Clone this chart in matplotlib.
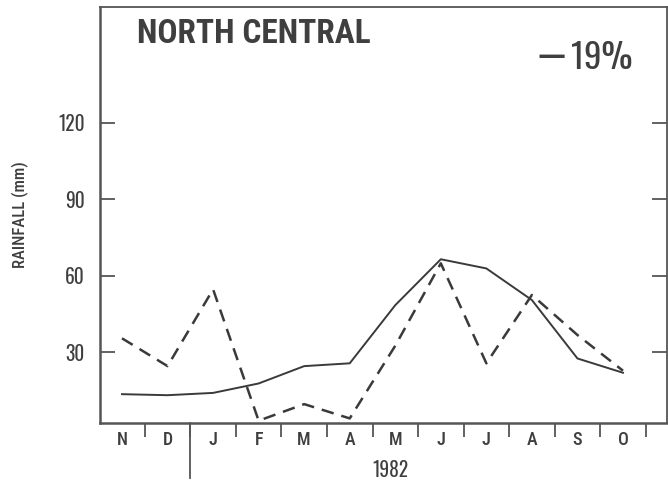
import matplotlib
matplotlib.use('Agg')
import matplotlib.pyplot as plt

# month axis, Nov 1981 - Oct 1982
months = ['N', 'D', 'J', 'F', 'M', 'A', 'M', 'J', 'J', 'A', 'S', 'O']
year_label = '1982'

# rainfall (mm)
rain_normal = [13.5, 13.1, 14.0, 17.7, 24.5, 25.6, 48.4, 66.4, 62.8, 50.4, 27.5, 21.9]
rain_1982 = [35.4, 24.5, 54.6, 3.1, 9.6, 4.0, 32.5, 64.8, 25.6, 52.4, 36.7, 22.7]

y_ticks = [30, 60, 90, 120]
region = 'NORTH CENTRAL'
change_text = '19%'

plt.rcParams['font.family'] = ['Roboto Condensed', 'DejaVu Sans']
num_font = ['Oswald', 'Roboto Condensed', 'DejaVu Sans']
ink = '#3a3a3a'
text_col = '#3f3f3f'

fig = plt.figure(figsize=(6.68, 4.84), dpi=100)
ax = fig.add_axes([100 / 668, 61 / 484, 567 / 668, 416 / 484])

x = list(range(len(months)))
ax.plot(x, rain_normal, color=ink, lw=1.4)
ax.plot(x, rain_1982, color=ink, lw=1.8, dashes=(5, 3.2))

ax.set_xlim(-0.483, 11.966)
ax.set_ylim(2.2, 165.3)

for s in ax.spines.values():
    s.set_color('#555555')
    s.set_linewidth(1.3)
ax.spines['left'].set_linewidth(1.8)
ax.spines['bottom'].set_linewidth(1.8)

# month labels, no major ticks; minor ticks between months
ax.set_xticks(x)
ax.set_xticklabels(months, fontsize=13, color=text_col, fontweight='medium')
ax.tick_params(axis='x', which='major', length=0, pad=6)
ax.set_xticks([i + 0.5 for i in x], minor=True)
ax.tick_params(axis='x', which='minor', direction='out', length=10,
               width=1.3, color='#555555')

# year boundary marker between D and J
ax.plot([1.5, 1.5], [0, -0.132], transform=ax.get_xaxis_transform(),
        color='#555555', lw=1.3, clip_on=False)

ax.set_yticks(y_ticks)
ax.set_yticklabels([str(v) for v in y_ticks], fontsize=14, color=text_col,
                   family=num_font)
ax.tick_params(axis='y', direction='in', length=11, width=1.3,
               color='#555555', right=True, pad=11)

ax.set_ylabel('RAINFALL (mm)', fontsize=12, color=text_col,
              fontweight='medium', labelpad=0)
ax.yaxis.set_label_coords(-0.125, 0.5)

ax.text(0.065, 0.935, region, transform=ax.transAxes, fontsize=24,
        fontweight='bold', color=text_col, va='center', ha='left')
ax.text(0.795, 0.872, '\u2014', transform=ax.transAxes, fontsize=33,
        color=text_col, va='center', ha='center')
ax.text(0.94, 0.877, change_text, transform=ax.transAxes, fontsize=25,
        color=text_col, va='center', ha='right', family=num_font)

fig.text(390 / 668, 1 - 470 / 484, year_label, fontsize=14, color=text_col,
         ha='center', va='center', family=num_font)

fig.savefig('out.png', dpi=100)
